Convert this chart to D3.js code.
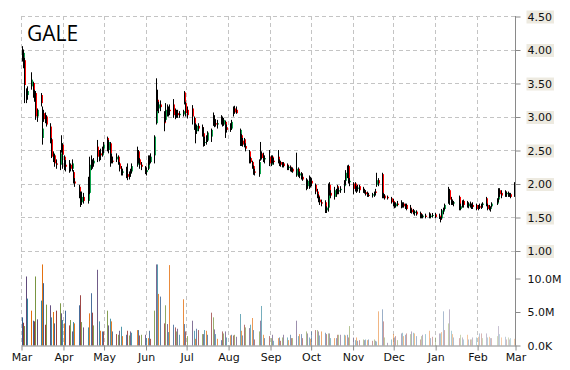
<!DOCTYPE html>
<html>
<head>
<meta charset="utf-8">
<script src="https://cdn.jsdelivr.net/npm/d3@7"></script>
<style>
  body { margin: 0; background: #fff; }
  svg { display: block; }
</style>
</head>
<body>
<div id="chart"></div>
<script>
const ticker = 'GALE';
const holidays = ['2014-04-18', '2014-05-26', '2014-07-04', '2014-09-01', '2014-11-27',
  '2014-12-25', '2015-01-01', '2015-01-19', '2015-02-16'];
const priceTicks = [1.0, 1.5, 2.0, 2.5, 3.0, 3.5, 4.0, 4.5];
const volumeTicks = [0, 5, 10];
const volumeTickLabels = ['0.0K', '5.0M', '10.0M'];

// one line per month, Mar 2014 .. Feb 2015 (+ Mar 2)
const opens = [
  3.98, 3.88, 3.84, 3.40, 3.32, 3.45, 3.50, 3.32, 3.35, 3.00, 3.32, 2.68, 3.05, 2.98, 3.00, 2.85, 2.66, 2.40, 2.42, 2.30, 2.28,
  2.48, 2.58, 2.40, 2.28, 2.22, 2.28, 2.22, 2.17, 2.03, 1.95, 1.82, 1.72, 1.80, 1.74, 1.86, 2.25, 2.32, 2.30, 2.55, 2.36, 2.45,
  2.42, 2.52, 2.68, 2.50, 2.60, 2.40, 2.34, 2.36, 2.40, 2.30, 2.22, 2.16, 2.20, 2.14, 2.10, 2.15, 2.18, 2.28, 2.48, 2.36, 2.28,
  2.24, 2.17, 2.22, 2.38, 2.32, 2.42, 2.90, 3.25, 3.12, 3.18, 3.06, 2.95, 3.10, 3.05, 3.10, 3.18, 3.02, 3.08, 3.05, 3.02, 3.03,
  3.36, 3.20, 3.10, 3.12, 2.98, 2.86, 2.78, 2.86, 2.84, 2.75, 2.62, 2.68, 2.64, 2.70, 3.00, 2.95, 2.90, 2.88, 2.98, 2.92, 2.88, 2.92,
  2.84, 2.80, 2.82, 3.05, 3.12, 3.10, 2.58, 2.72, 2.64, 2.66, 2.56, 2.48, 2.38, 2.32, 2.26, 2.18, 2.14, 2.36, 2.45, 2.40, 2.36,
  2.40, 2.28, 2.40, 2.34, 2.40, 2.33, 2.32, 2.28, 2.30, 2.28, 2.23, 2.25, 2.20, 2.22, 2.12, 2.22, 2.12, 2.15, 2.10, 2.04, 1.96,
  2.04, 1.98, 2.04, 1.98, 1.88, 1.82, 1.76, 1.72, 1.72, 1.60, 1.64, 1.98, 1.86, 1.80, 1.90, 1.96, 1.88, 1.90, 1.96, 2.04, 2.12, 2.26, 2.02,
  2.00, 2.00, 1.90, 1.92, 1.96, 1.92, 1.90, 1.87, 1.86, 1.83, 1.82, 1.83, 1.88, 1.98, 2.05, 2.14, 1.84, 1.82, 1.80,
  1.78, 1.74, 1.68, 1.66, 1.70, 1.70, 1.68, 1.70, 1.66, 1.68, 1.64, 1.61, 1.58, 1.56, 1.58, 1.56, 1.52, 1.50, 1.52, 1.55, 1.50, 1.52,
  1.54, 1.52, 1.49, 1.48, 1.58, 1.62, 1.70, 1.90, 1.76, 1.72, 1.70, 1.80, 1.62, 1.66, 1.74, 1.68, 1.66, 1.70, 1.66, 1.68,
  1.68, 1.62, 1.66, 1.64, 1.68, 1.78, 1.68, 1.64, 1.62, 1.66, 1.70, 1.76, 1.90, 1.86, 1.88, 1.84, 1.86, 1.82, 1.84, 1.83
];
const highs = [
  4.05, 4.00, 3.88, 3.42, 3.45, 3.66, 3.52, 3.40, 3.38, 3.12, 3.35, 3.15, 3.10, 3.06, 3.02, 2.90, 2.68, 2.48, 2.44, 2.36, 2.50,
  2.72, 2.60, 2.42, 2.35, 2.35, 2.30, 2.36, 2.20, 2.08, 1.98, 1.88, 1.88, 1.86, 2.10, 2.40, 2.42, 2.36, 2.38, 2.65, 2.50, 2.52,
  2.55, 2.62, 2.70, 2.65, 2.62, 2.45, 2.40, 2.45, 2.42, 2.32, 2.26, 2.22, 2.25, 2.30, 2.18, 2.22, 2.30, 2.55, 2.50, 2.38, 2.32,
  2.26, 2.24, 2.42, 2.42, 2.45, 2.72, 3.57, 3.40, 3.22, 3.24, 3.08, 3.20, 3.18, 3.15, 3.18, 3.26, 3.12, 3.10, 3.10, 3.08, 3.10,
  3.38, 3.22, 3.15, 3.17, 3.00, 2.90, 2.88, 2.90, 2.88, 2.84, 2.70, 2.72, 2.78, 2.82, 3.06, 3.02, 2.96, 2.95, 3.02, 3.00, 2.98, 2.94,
  2.88, 2.90, 2.95, 3.15, 3.16, 3.15, 2.82, 2.74, 2.68, 2.68, 2.60, 2.50, 2.40, 2.34, 2.27, 2.22, 2.36, 2.62, 2.48, 2.46, 2.42,
  2.50, 2.42, 2.42, 2.38, 2.50, 2.36, 2.34, 2.32, 2.32, 2.30, 2.27, 2.27, 2.24, 2.24, 2.46, 2.24, 2.18, 2.17, 2.15, 2.08, 2.06,
  2.12, 2.10, 2.08, 2.00, 1.92, 1.84, 1.80, 1.76, 1.75, 1.66, 2.00, 2.02, 1.90, 1.95, 1.92, 1.98, 1.94, 1.96, 2.05, 2.20, 2.27, 2.28, 2.08,
  2.02, 2.02, 1.96, 1.98, 1.98, 1.95, 1.92, 1.90, 1.88, 1.86, 1.86, 1.88, 1.92, 2.16, 2.08, 2.16, 1.86, 1.84, 1.82,
  1.80, 1.77, 1.72, 1.72, 1.74, 1.75, 1.72, 1.72, 1.70, 1.70, 1.68, 1.63, 1.62, 1.60, 1.60, 1.58, 1.55, 1.54, 1.55, 1.57, 1.55, 1.56,
  1.56, 1.55, 1.50, 1.62, 1.64, 1.70, 1.95, 1.92, 1.80, 1.76, 1.74, 1.82, 1.70, 1.75, 1.76, 1.74, 1.72, 1.73, 1.70, 1.72,
  1.70, 1.68, 1.70, 1.70, 1.72, 1.80, 1.70, 1.68, 1.66, 1.72, 1.78, 1.93, 1.93, 1.90, 1.90, 1.88, 1.88, 1.86, 1.86, 2.02
];
const lows = [
  3.82, 3.72, 3.20, 3.20, 3.25, 3.40, 3.28, 3.22, 2.95, 2.92, 3.15, 2.58, 2.92, 2.90, 2.85, 2.60, 2.38, 2.32, 2.25, 2.22, 2.20,
  2.46, 2.22, 2.20, 2.18, 2.16, 2.18, 2.18, 2.00, 1.95, 1.78, 1.65, 1.68, 1.70, 1.70, 1.84, 2.20, 2.22, 2.25, 2.32, 2.33, 2.35,
  2.40, 2.45, 2.48, 2.45, 2.25, 2.30, 2.30, 2.32, 2.28, 2.18, 2.12, 2.12, 2.08, 2.05, 2.06, 2.10, 2.15, 2.25, 2.30, 2.22, 2.20,
  2.14, 2.12, 2.20, 2.28, 2.30, 2.30, 2.88, 3.08, 3.05, 3.08, 2.78, 2.92, 3.00, 3.00, 3.02, 2.98, 2.96, 2.98, 2.98, 2.98, 3.00,
  3.18, 3.00, 2.97, 2.88, 2.80, 2.60, 2.74, 2.78, 2.70, 2.55, 2.56, 2.58, 2.62, 2.62, 2.86, 2.84, 2.85, 2.82, 2.88, 2.85, 2.86, 2.68,
  2.76, 2.77, 2.80, 3.00, 3.04, 3.04, 2.56, 2.56, 2.55, 2.54, 2.48, 2.30, 2.30, 2.22, 2.13, 2.12, 2.10, 2.34, 2.36, 2.32, 2.30,
  2.26, 2.26, 2.30, 2.28, 2.30, 2.26, 2.25, 2.24, 2.24, 2.20, 2.20, 2.18, 2.17, 2.16, 2.10, 2.10, 2.08, 2.06, 2.04, 1.90, 1.92,
  1.92, 1.94, 1.96, 1.84, 1.78, 1.72, 1.68, 1.66, 1.56, 1.56, 1.58, 1.82, 1.78, 1.76, 1.80, 1.84, 1.84, 1.86, 1.86, 1.98, 2.08, 2.00, 1.96,
  1.84, 1.88, 1.86, 1.88, 1.86, 1.86, 1.85, 1.82, 1.80, 1.80, 1.79, 1.80, 1.82, 1.95, 1.96, 1.78, 1.78, 1.76, 1.76,
  1.70, 1.66, 1.63, 1.64, 1.66, 1.63, 1.64, 1.64, 1.62, 1.60, 1.56, 1.55, 1.54, 1.52, 1.52, 1.48, 1.48, 1.48, 1.48, 1.48, 1.48, 1.49,
  1.48, 1.47, 1.42, 1.46, 1.54, 1.60, 1.70, 1.68, 1.68, 1.68, 1.66, 1.60, 1.60, 1.64, 1.64, 1.64, 1.63, 1.64, 1.62, 1.62,
  1.60, 1.60, 1.62, 1.62, 1.64, 1.66, 1.60, 1.60, 1.58, 1.64, 1.68, 1.72, 1.80, 1.78, 1.80, 1.80, 1.80, 1.80, 1.78, 1.80
];
const closes = [
  3.88, 3.95, 3.47, 3.30, 3.38, 3.55, 3.32, 3.36, 3.00, 3.10, 3.20, 2.82, 2.96, 3.00, 2.88, 2.66, 2.40, 2.45, 2.30, 2.28, 2.45,
  2.60, 2.43, 2.28, 2.25, 2.28, 2.22, 2.30, 2.03, 2.00, 1.82, 1.70, 1.80, 1.74, 1.86, 2.28, 2.32, 2.30, 2.34, 2.40, 2.47, 2.42,
  2.52, 2.58, 2.52, 2.62, 2.45, 2.34, 2.33, 2.40, 2.32, 2.22, 2.16, 2.18, 2.12, 2.10, 2.15, 2.18, 2.26, 2.48, 2.36, 2.28, 2.25,
  2.17, 2.20, 2.38, 2.32, 2.40, 2.70, 3.25, 3.12, 3.18, 3.14, 2.90, 3.10, 3.05, 3.10, 3.08, 3.02, 3.08, 3.05, 3.02, 3.04, 3.08,
  3.20, 3.05, 3.02, 3.00, 2.86, 2.75, 2.86, 2.82, 2.72, 2.60, 2.62, 2.62, 2.76, 2.80, 2.92, 2.88, 2.88, 2.90, 2.92, 2.88, 2.95, 2.84,
  2.80, 2.87, 2.92, 3.12, 3.06, 3.05, 2.80, 2.62, 2.58, 2.56, 2.52, 2.36, 2.32, 2.26, 2.18, 2.16, 2.32, 2.45, 2.38, 2.36, 2.38,
  2.30, 2.40, 2.34, 2.32, 2.33, 2.30, 2.28, 2.30, 2.26, 2.23, 2.25, 2.20, 2.22, 2.18, 2.22, 2.12, 2.15, 2.08, 2.06, 1.95, 2.04,
  1.98, 2.06, 2.00, 1.88, 1.82, 1.76, 1.72, 1.70, 1.60, 1.64, 1.98, 1.86, 1.82, 1.90, 1.84, 1.88, 1.90, 1.92, 2.04, 2.16, 2.24, 2.02, 2.04,
  1.92, 1.90, 1.92, 1.94, 1.90, 1.88, 1.87, 1.84, 1.82, 1.82, 1.84, 1.87, 1.86, 2.05, 2.00, 1.84, 1.80, 1.78, 1.78,
  1.72, 1.68, 1.66, 1.70, 1.68, 1.68, 1.70, 1.66, 1.68, 1.62, 1.60, 1.57, 1.56, 1.58, 1.54, 1.52, 1.50, 1.52, 1.50, 1.50, 1.52, 1.53,
  1.50, 1.49, 1.46, 1.60, 1.62, 1.68, 1.76, 1.76, 1.72, 1.70, 1.72, 1.62, 1.66, 1.72, 1.68, 1.66, 1.70, 1.66, 1.68, 1.65,
  1.62, 1.66, 1.64, 1.68, 1.70, 1.68, 1.62, 1.62, 1.64, 1.70, 1.76, 1.88, 1.84, 1.82, 1.82, 1.86, 1.82, 1.84, 1.80, 1.95
];
// volume in millions of shares
const volumes = [
  4.2, 3.4, 2.9, 10.3, 7.0, 5.2, 3.7, 3.6, 10.3, 3.9, 6.7, 12.1, 9.3, 3.1, 6.1, 6.0, 4.2, 5.0, 3.3, 5.2, 6.3,
  4.8, 3.8, 3.3, 5.2, 3.0, 3.8, 2.1, 3.5, 3.3, 6.0, 7.5, 3.5, 2.7, 2.7, 4.8, 7.8, 4.9, 3.0, 11.3, 3.6, 2.2,
  2.1, 2.1, 5.2, 3.0, 4.0, 3.6, 2.1, 1.7, 1.6, 2.2, 2.8, 1.4, 1.6, 2.2, 1.5, 2.1, 1.9, 2.3, 2.3, 1.5, 1.6,
  1.6, 1.1, 1.1, 2.2, 1.0, 5.2, 12.1, 12.1, 7.7, 7.3, 3.3, 6.0, 3.2, 2.0, 12.0, 3.1, 2.7, 2.1, 2.5, 1.6, 6.9,
  3.2, 2.1, 1.4, 3.7, 2.2, 1.0, 2.5, 2.3, 1.7, 1.7, 2.3, 2.2, 1.6, 4.9, 4.2, 2.4, 1.7, 1.0, 0.8, 2.1, 1.8, 2.1,
  1.2, 1.5, 1.6, 1.5, 1.6, 1.3, 4.7, 2.2, 1.5, 3.1, 2.7, 2.6, 3.1, 4.1, 2.3, 0.9, 2.1, 3.7, 5.9, 1.6, 1.1,
  1.4, 1.1, 1.6, 0.7, 1.1, 1.2, 0.7, 1.2, 1.6, 1.2, 0.8, 1.6, 1.1, 1.1, 3.7, 1.4, 1.7, 1.7, 1.1, 2.1, 1.8,
  1.2, 1.0, 2.1, 2.3, 2.3, 2.1, 1.5, 2.1, 1.9, 1.7, 1.8, 1.8, 1.1, 1.1, 1.1, 1.6, 1.6, 1.6, 1.6, 1.5, 1.6, 1.2, 2.9,
  1.2, 0.8, 1.2, 0.7, 0.8, 0.9, 0.8, 0.9, 0.8, 0.9, 0.7, 0.9, 0.7, 0.6, 5.1, 5.4, 3.6, 1.2, 0.4,
  0.9, 1.7, 1.2, 1.4, 0.8, 1.8, 1.9, 1.4, 1.6, 1.8, 1.7, 2.1, 1.9, 1.8, 1.4, 0.9, 1.4, 1.6, 1.7, 2.2, 1.1, 1.3,
  1.2, 1.8, 1.8, 2.0, 5.1, 2.3, 3.3, 5.4, 2.2, 1.7, 1.2, 1.1, 1.6, 1.2, 0.9, 1.6, 0.9, 0.9, 0.9, 1.2,
  1.2, 1.3, 1.8, 1.8, 1.1, 1.8, 1.2, 1.3, 1.1, 1.1, 1.4, 2.9, 1.7, 1.2, 1.3, 0.9, 1.2, 0.9, 1.1, 1.0
];

let cfg = {
  width: 570,
  height: 370,
  left: 21,
  right: 515,
  top: 16,
  priceBottom: 250.5,
  volBottom: 345.5,
  gridColor: '#c4c4c4',
  axisColor: '#8a8a8a',
  upColor: '#0ca34c',
  downColor: '#ff0000',
  labelBg: '#edeae0',
  volColors: ['#365f91', '#953735', '#76923c', '#5f497a', '#31859c', '#e36c09'],
  font: '"DejaVu Sans", Verdana, sans-serif'
};

const fmtDay = d3.timeFormat('%Y-%m-%d');
const tradingDays = d3.timeDay.range(new Date(2014, 2, 3), new Date(2015, 2, 3))
  .filter(d => d.getDay() !== 0 && d.getDay() !== 6 && !holidays.includes(fmtDay(d)));

const bars = tradingDays.map((d, i) => ({
  date: d, open: opens[i], high: highs[i], low: lows[i], close: closes[i], volume: volumes[i]
})).filter(d => d.close !== undefined);

const svg = d3.select('#chart').append('svg')
  .attr('width', cfg.width)
  .attr('height', cfg.height);

const x = d3.scaleTime()
  .domain([new Date(2014, 2, 1), new Date(2015, 2, 1)])
  .range([cfg.left, cfg.right]);
const y = d3.scaleLinear().domain([1, 4.5]).range([cfg.priceBottom, cfg.top]);
const yVol = d3.scaleLinear().domain([0, 10]).range([cfg.volBottom, cfg.volBottom - 67]);
const months = d3.timeMonth.range(new Date(2014, 2, 1), new Date(2015, 2, 2));

// grid
let grid = svg.append('g').attr('class', 'grid')
  .attr('stroke', cfg.gridColor).attr('stroke-width', 1).attr('stroke-dasharray', '4,3');
grid.selectAll('.hgrid').data(priceTicks).enter().append('line')
  .attr('class', 'hgrid')
  .attr('x1', cfg.left).attr('x2', cfg.right)
  .attr('y1', d => Math.round(y(d)) + 0.5).attr('y2', d => Math.round(y(d)) + 0.5);
grid.selectAll('.vgrid').data(months.slice(0, -1)).enter().append('line')
  .attr('class', 'vgrid')
  .attr('x1', d => Math.round(x(d)) + 0.5).attr('x2', d => Math.round(x(d)) + 0.5)
  .attr('y1', cfg.top).attr('y2', cfg.volBottom);

// volume
const n = bars.length;
svg.append('g').attr('class', 'volume')
  .selectAll('rect').data(bars).enter().append('rect')
  .attr('x', d => Math.round(x(d.date) - 2))
  .attr('width', 1)
  .attr('y', d => yVol(d.volume))
  .attr('height', d => cfg.volBottom - yVol(d.volume))
  .attr('fill', (d, i) => cfg.volColors[i % 6])
  .attr('fill-opacity', (d, i) => 1 - 0.68 * i / (n - 1));

// candles
let candles = svg.append('g').attr('class', 'candles')
  .selectAll('g').data(bars).enter().append('g');
candles.append('rect')
  .attr('x', d => Math.round(x(d.date) - 2))
  .attr('width', 2)
  .attr('y', d => y(Math.max(d.open, d.close)))
  .attr('height', d => Math.max(1, Math.abs(y(d.open) - y(d.close))))
  .attr('fill', d => d.close >= d.open ? cfg.upColor : cfg.downColor);
candles.append('rect')
  .attr('x', d => Math.round(x(d.date) - 2))
  .attr('width', 1)
  .attr('y', d => y(d.high))
  .attr('height', d => y(d.low) - y(d.high))
  .attr('fill', '#000');

// axes
svg.append('line')
  .attr('x1', cfg.right + 0.5).attr('x2', cfg.right + 0.5)
  .attr('y1', cfg.top).attr('y2', cfg.volBottom)
  .attr('stroke', cfg.axisColor);

let priceAxis = svg.append('g')
  .attr('transform', `translate(${cfg.right + 0.5},0.5)`)
  .call(d3.axisRight(y).tickValues(priceTicks).tickFormat(d3.format('.2f')).tickSize(5).tickPadding(7));
let volAxis = svg.append('g')
  .attr('transform', `translate(${cfg.right + 0.5},0)`)
  .call(d3.axisRight(yVol).tickValues(volumeTicks).tickFormat((d, i) => volumeTickLabels[i]).tickSize(5).tickPadding(7));
let timeAxis = svg.append('g')
  .attr('transform', `translate(0.5,${cfg.volBottom})`)
  .call(d3.axisBottom(x).tickValues(months).tickFormat(d3.timeFormat('%b')).tickSize(5).tickSizeOuter(0).tickPadding(3));

[priceAxis, volAxis, timeAxis].forEach(ax => {
  ax.select('.domain').attr('stroke', cfg.axisColor);
  ax.selectAll('.tick line').attr('stroke', cfg.axisColor);
  ax.selectAll('text').attr('font-family', cfg.font).attr('font-size', 11).attr('fill', '#111');
});
priceAxis.select('.domain').remove();
volAxis.select('.domain').remove();

priceAxis.selectAll('.tick').each(function () {
  let t = d3.select(this);
  let bb = t.select('text').node().getBBox();
  t.insert('rect', 'text')
    .attr('x', bb.x - 1).attr('y', bb.y)
    .attr('width', bb.width + 3).attr('height', bb.height)
    .attr('fill', cfg.labelBg);
});

// title
svg.append('text')
  .attr('x', 27).attr('y', 41)
  .attr('font-family', '"Open Sans", "Noto Sans", sans-serif')
  .attr('font-size', 21)
  .attr('fill', '#000')
  .text(ticker);
</script>
</body>
</html>
